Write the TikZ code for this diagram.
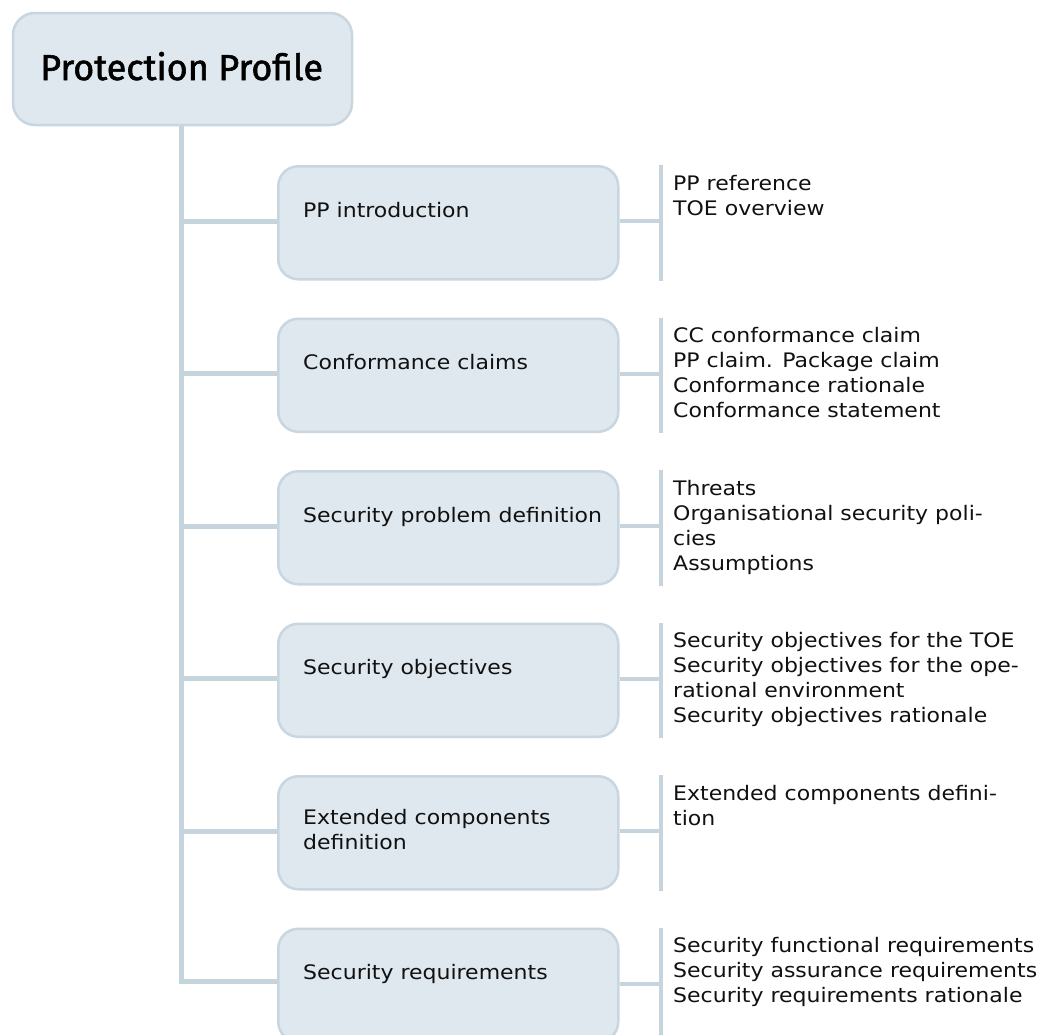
\documentclass[tikz,border=0pt]{standalone}
\usepackage{fontspec}
\setmainfont[FakeStretch=1.1]{DejaVu Sans}
\newfontfamily\titlefont[FakeBold=1.6]{Fira Sans}
\definecolor{boxfill}{HTML}{DFE8EF}
\definecolor{boxline}{HTML}{C9D6DF}
\definecolor{connline}{HTML}{C6D4DD}
\definecolor{txt}{HTML}{111111}
\begin{document}
\begin{tikzpicture}[x=1pt,y=-1pt,
  titlebox/.style={draw=boxline, line width=2.5pt, fill=boxfill, rounded corners=22pt,
    minimum width=339pt, minimum height=112pt, inner sep=0pt},
  section/.style={draw=boxline, line width=2.5pt, fill=boxfill, rounded corners=20pt,
    minimum width=340pt, minimum height=113pt, inner sep=0pt, anchor=north west},
  conn/.style={draw=connline, line width=5pt},
  brk/.style={draw=connline, line width=4pt},
  lbl/.style={anchor=base west, inner sep=0pt, text=txt, font=\fontsize{20}{25}\selectfont, align=left},
  items/.style={anchor=north west, inner sep=0pt, text=txt, font=\fontsize{20}{25}\selectfont, align=left}]
\clip (0,0) rectangle (1051,1034);
\fill[white] (0,0) rectangle (1051,1034);
\newcommand{\firstline}{\rule{0pt}{16pt}}

% title
\node[titlebox] (title) at (182.5,69) {};
\node[anchor=base west, inner sep=0pt, text=black, font=\titlefont\fontsize{36}{40}\selectfont] (titletext) at (40,80) {Protection Profile};

% section boxes
\node[section] (b1) at (277,165) {};
\node[section] (b2) at (277,317.5) {};
\node[section] (b3) at (277,470) {};
\node[section] (b4) at (277,622.5) {};
\node[section] (b5) at (277,775) {};
\node[section] (b6) at (277,927.5) {};

% box labels
\node[lbl] (l1) at (303,217) {PP introduction};
\node[lbl] (l2) at (303,369.5) {Conformance claims};
\node[lbl] (l3) at (303,522) {Security problem definition};
\node[lbl] (l4) at (303,674.5) {Security objectives};
\node[items] (l5) at (303,808) {\firstline Extended components\\definition};
\node[lbl] (l6) at (303,979.5) {Security requirements};

% trunk
\coordinate (trunkend) at (181,981);
\draw[conn] (title.south -| trunkend) -- (trunkend) -- (b6.west |- trunkend);
\foreach \b in {b1,b2,b3,b4,b5}{
  \draw[conn] ([yshift=1.5pt]\b.west) -- ([yshift=1.5pt]\b.west -| trunkend);
}

% brackets and right connectors
\foreach \b/\k in {b1/k1,b2/k2,b3/k3,b4/k4,b5/k5,b6/k6}{
  \coordinate (\k t) at ([xshift=41pt]\b.north east);
  \coordinate (\k b) at ([xshift=41pt]\b.south east);
  \draw[brk] (\k t) -- (\k b);
  \draw[conn, line width=4pt] ([yshift=1.5pt]\b.east) -- ([yshift=1.5pt]\b.east -| \k t);
}

% item lists
\node[items] (i1) at (673,174) {\firstline PP reference\\TOE overview};
\node[items] (i2) at (673,326.5) {\firstline CC conformance claim\\PP claim. Package claim\\Conformance rationale\\Conformance statement};
\node[items] (i3) at (673,479) {\firstline Threats\\Organisational security poli-\\cies\\Assumptions};
\node[items] (i4) at (673,631.5) {\firstline Security objectives for the TOE\\Security objectives for the ope-\\rational environment\\Security objectives rationale};
\node[items] (i5) at (673,784) {\firstline Extended components defini-\\tion};
\node[items] (i6) at (673,936.5) {\firstline Security functional requirements\\Security assurance requirements\\Security requirements rationale};
\end{tikzpicture}
\end{document}
